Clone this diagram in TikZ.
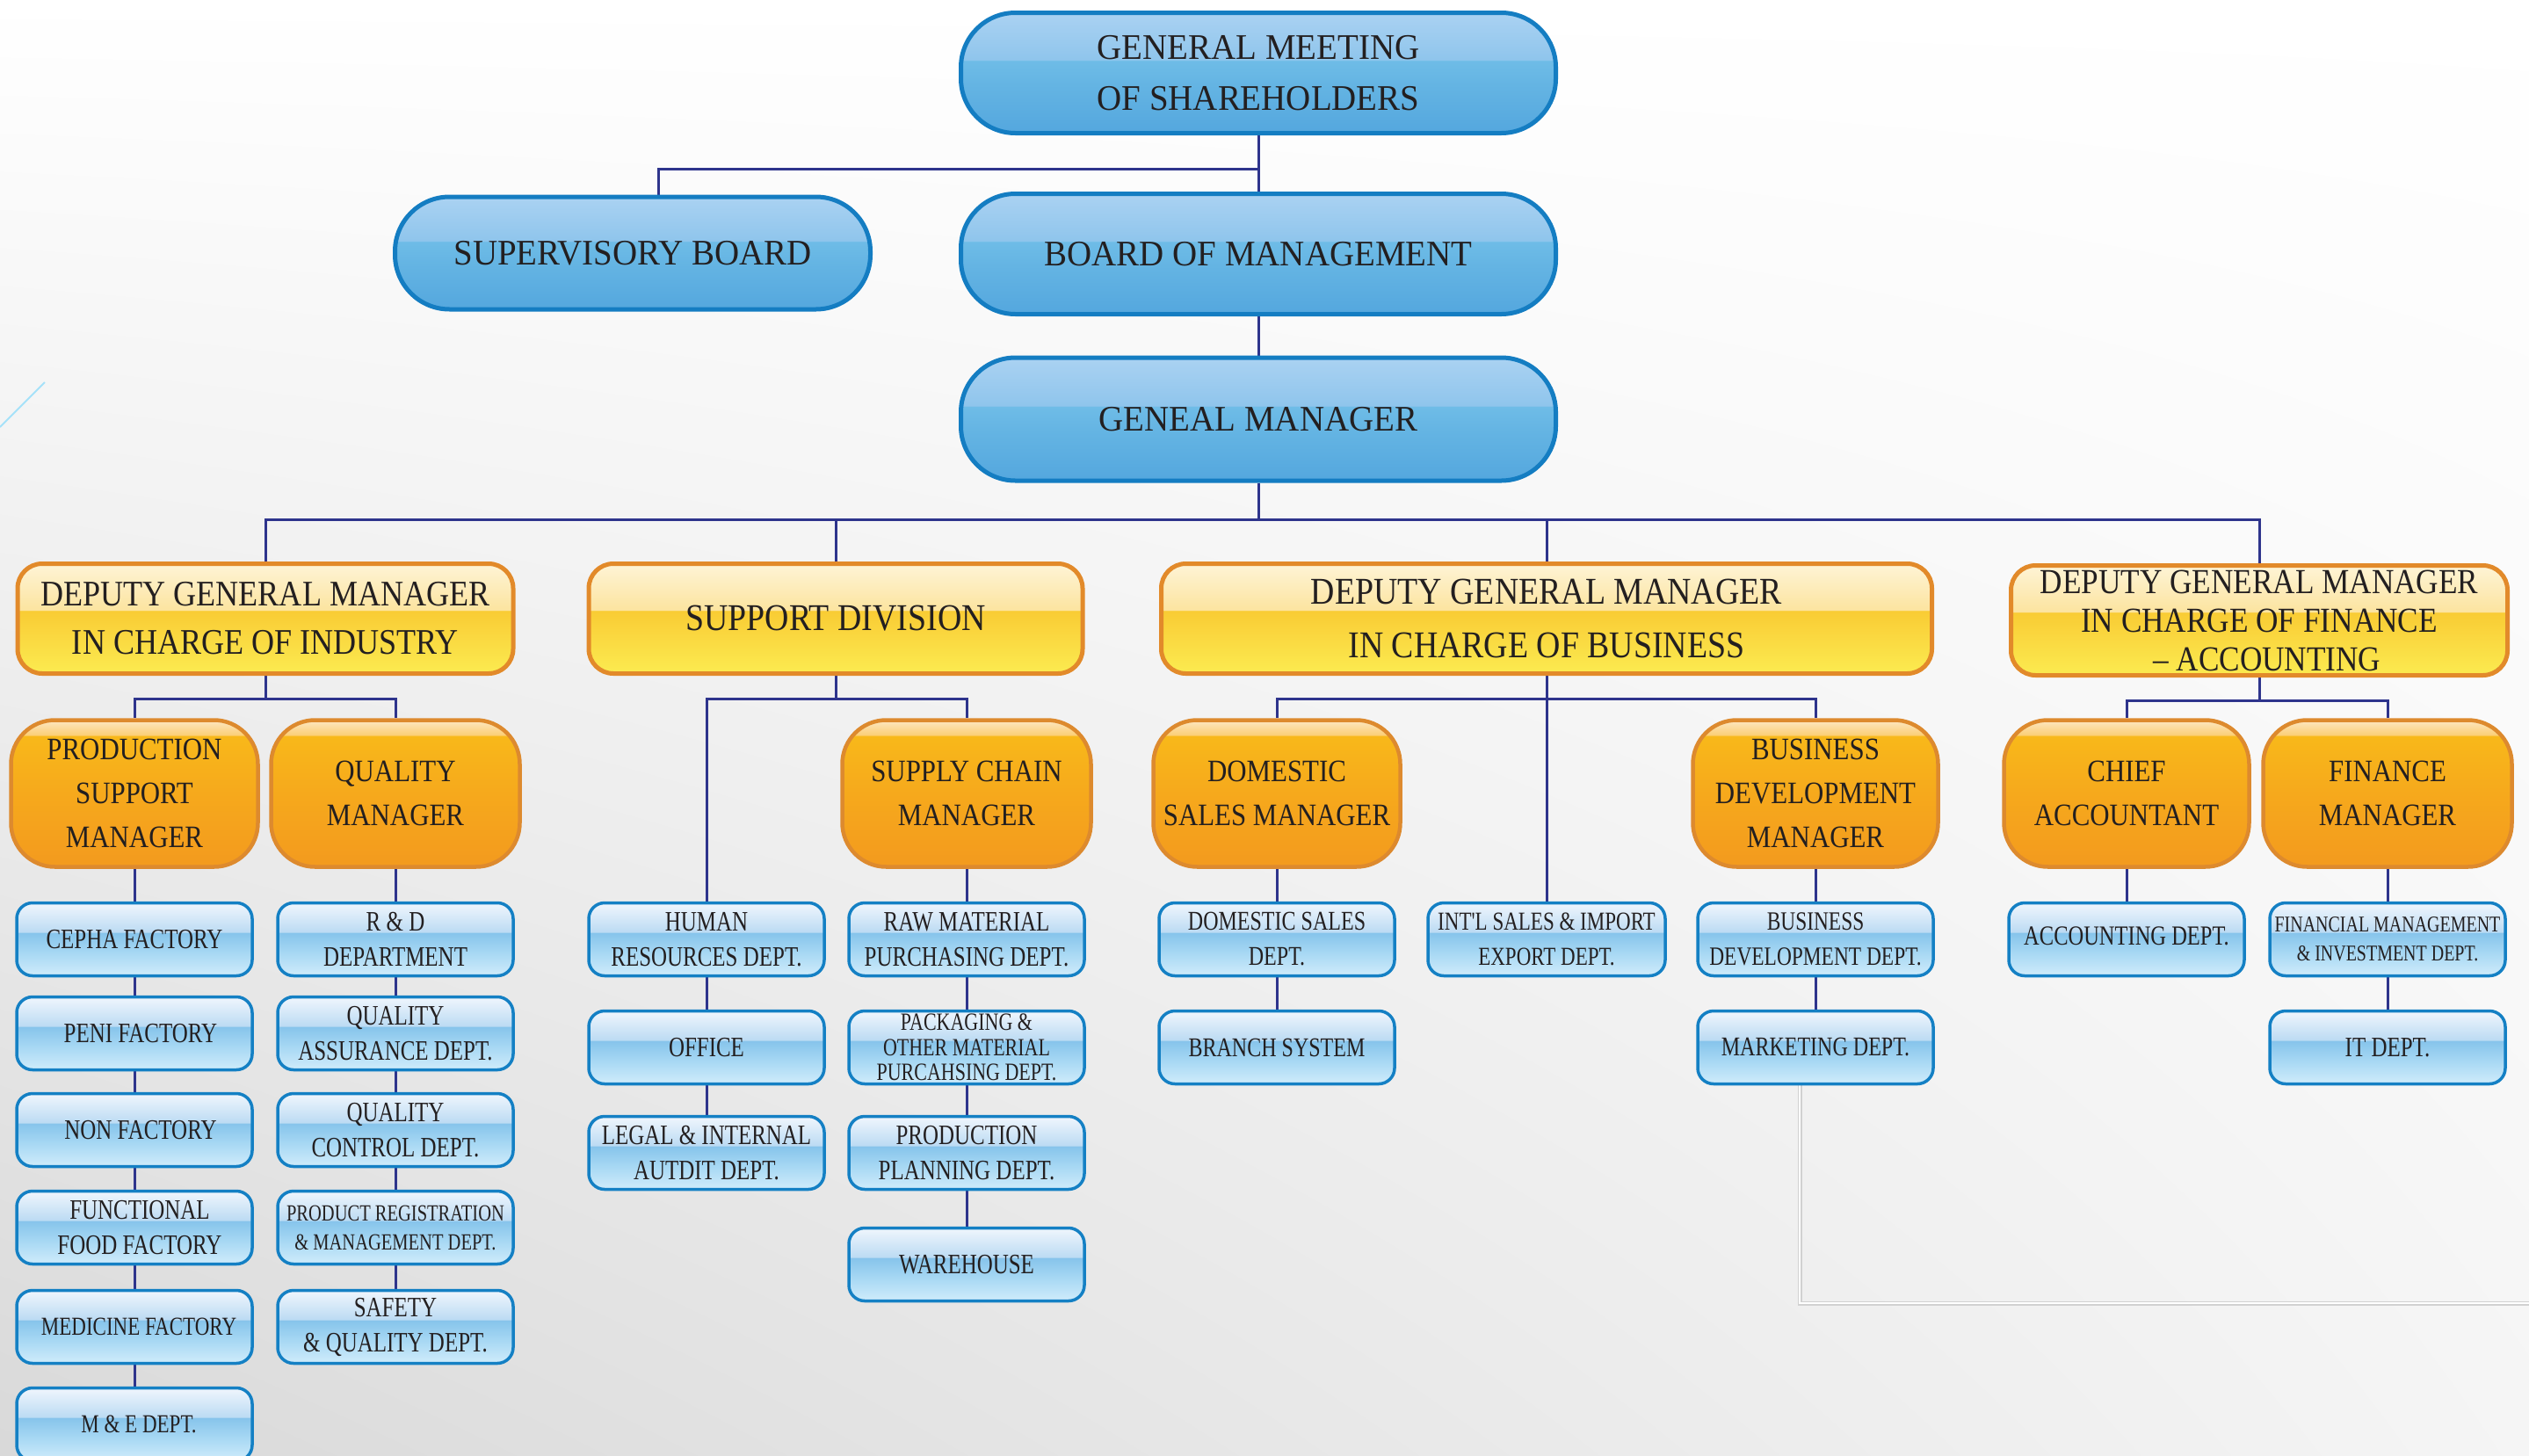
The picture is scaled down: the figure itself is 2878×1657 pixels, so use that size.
\documentclass[tikz,border=0pt]{standalone}
\usepackage{fontspec}
\setmainfont{Liberation Serif}
\newfontfamily\bigfont{Liberation Serif}[FakeStretch=0.95]
\newfontfamily\yfont{Liberation Serif}[FakeStretch=0.88]
\newfontfamily\ofont{Liberation Serif}[FakeStretch=0.87]
\newfontfamily\bfont{Liberation Serif}[FakeStretch=0.78]
\usetikzlibrary{calc,shadings}

\definecolor{conn}{RGB}{46,52,140}
\definecolor{txt}{RGB}{35,31,32}
\definecolor{bigborder}{RGB}{20,125,194}
\definecolor{bb1}{RGB}{84,167,222}
\definecolor{bb2}{RGB}{100,180,227}
\definecolor{bb3}{RGB}{110,188,231}
\definecolor{bb4}{RGB}{143,197,236}
\definecolor{bb5}{RGB}{170,210,242}
\definecolor{smallborder}{RGB}{20,128,196}
\definecolor{bs1}{RGB}{208,236,251}
\definecolor{bs2}{RGB}{169,217,244}
\definecolor{bs3}{RGB}{134,196,235}
\definecolor{bs4}{RGB}{188,219,243}
\definecolor{bs5}{RGB}{240,246,253}
\definecolor{yborder}{RGB}{226,138,42}
\definecolor{ys1}{RGB}{251,235,80}
\definecolor{ys2}{RGB}{250,216,64}
\definecolor{ys3}{RGB}{249,204,52}
\definecolor{ys4}{RGB}{252,228,160}
\definecolor{ys5}{RGB}{254,244,214}
\definecolor{oborder}{RGB}{221,138,46}
\definecolor{os1}{RGB}{243,154,30}
\definecolor{os2}{RGB}{246,169,28}
\definecolor{os3}{RGB}{248,184,26}
\definecolor{os4}{RGB}{251,207,120}
\definecolor{os5}{RGB}{253,231,194}

\pgfdeclareverticalshading{bbig}{100bp}{color(0bp)=(bb1); color(25bp)=(bb1); color(45bp)=(bb2); color(55bp)=(bb3); color(55.5bp)=(bb4); color(75bp)=(bb5); color(100bp)=(bb5)}
\pgfdeclareverticalshading{bsmall}{100bp}{color(0bp)=(bs1); color(25bp)=(bs1); color(40bp)=(bs2); color(54.5bp)=(bs3); color(55bp)=(bs4); color(75bp)=(bs5); color(100bp)=(bs5)}
\pgfdeclareverticalshading{yshade}{100bp}{color(0bp)=(ys1); color(25bp)=(ys1); color(42bp)=(ys2); color(53.5bp)=(ys3); color(54bp)=(ys4); color(75bp)=(ys5); color(100bp)=(ys5)}
\pgfdeclareverticalshading{oshade}{100bp}{color(0bp)=(os1); color(25bp)=(os1); color(50bp)=(os2); color(69.5bp)=(os3); color(70bp)=(os4); color(75bp)=(os5); color(100bp)=(os5)}

\pgfdeclarelayer{bg}
\pgfdeclarelayer{lines}
\pgfsetlayers{bg,lines,main}

\tikzset{
  link/.style={draw=conn, line width=3pt},
  bigblue/.style={draw=bigborder, line width=5pt, rounded corners=62pt, shading=bbig,
    minimum width=677pt, minimum height=137pt, inner sep=0pt, align=center,
    text=txt, font=\bigfont\fontsize{41}{58}\selectfont},
  yellowbox/.style={draw=yborder, line width=5pt, rounded corners=28pt, shading=yshade,
    minimum width=564pt, minimum height=125pt, inner sep=0pt, align=center,
    text=txt, font=\yfont\fontsize{41}{55}\selectfont},
  orangebox/.style={draw=oborder, line width=4.5pt, rounded corners=50pt, shading=oshade,
    minimum width=281pt, minimum height=167pt, inner sep=0pt, align=center,
    text=txt, font=\ofont\fontsize{35.5}{50}\selectfont},
  bluebox/.style={draw=smallborder, line width=3.5pt, rounded corners=18pt, shading=bsmall,
    minimum width=268pt, minimum height=83pt, inner sep=0pt, align=center,
    text=txt, font=\bfont\fontsize{32}{40}\selectfont},
  bsz/.style={font=\bfont\fontsize{#1}{40}\selectfont},
  smalltext/.style={font=\bfont\fontsize{26.3}{33}\selectfont},
}

\begin{document}
\begin{tikzpicture}[x=1pt,y=-1pt]
\useasboundingbox (0,0) rectangle (2878,1657);
\clip (0,0) rectangle (2878,1657);

\begin{pgfonlayer}{bg}
  \shade[upper left=white, upper right=white, lower left=black!15, lower right=black!4]
    (0,0) rectangle (2878,1657);
  \draw[black!18, line width=5pt] (2048,1235) -- (2048,1483) -- (2878,1483);
  \draw[white, line width=2.5pt] (2048,1235) -- (2048,1483) -- (2878,1483);
  \draw[cyan!35, line width=2pt] (0,486) -- (51,435);
\end{pgfonlayer}

% top levels
\node[bigblue] (gms) at (1432,83) {GENERAL MEETING\\OF SHAREHOLDERS};
\node[bigblue, minimum width=541pt, minimum height=128pt] (sb) at (720,288) {SUPERVISORY BOARD};
\node[bigblue] (bom) at (1432,289) {BOARD OF MANAGEMENT};
\node[bigblue, minimum height=140pt] (gm) at (1432,477) {GENEAL MANAGER};

% level 2
\node[yellowbox] (ind) at (302,704) {DEPUTY GENERAL MANAGER\\IN CHARGE OF INDUSTRY};
\node[yellowbox, minimum width=562pt, font=\yfont\fontsize{43}{55}\selectfont] (sup) at (951,704) {SUPPORT DIVISION};
\node[yellowbox, minimum width=877pt, font=\yfont\fontsize{43}{60}\selectfont] (bus) at (1760,704) {DEPUTY GENERAL MANAGER\\[1pt]IN CHARGE OF BUSINESS};
\node[yellowbox, minimum width=565pt, font=\yfont\fontsize{40}{44}\selectfont] (fin) at (2571,706) {DEPUTY GENERAL MANAGER\\IN CHARGE OF FINANCE\\\hphantom{–}– ACCOUNTING};

% level 3
\node[orangebox] (psm) at (153,903) {PRODUCTION\\SUPPORT\\MANAGER};
\node[orangebox, minimum width=283pt] (qm) at (450,903) {QUALITY\\MANAGER};
\node[orangebox, minimum width=283pt] (scm) at (1100,903) {SUPPLY CHAIN\\MANAGER};
\node[orangebox] (dsm) at (1453,903) {DOMESTIC\\SALES MANAGER};
\node[orangebox, minimum width=279pt] (bdm) at (2066,903) {BUSINESS\\DEVELOPMENT\\MANAGER};
\node[orangebox, minimum width=279pt] (ca) at (2420,903) {CHIEF\\ACCOUNTANT};
\node[orangebox, minimum width=283pt] (fm) at (2717,903) {FINANCE\\MANAGER};

% production support column
\node[bluebox] (cepha) at (153,1069) {CEPHA FACTORY};
\node[bluebox] (peni) at (153,1176) {\hspace*{14pt}PENI FACTORY};
\node[bluebox] (non) at (153,1286) {\hspace*{14pt}NON FACTORY};
\node[bluebox] (func) at (153,1397) {\hspace*{12pt}FUNCTIONAL\\\hspace*{12pt}FOOD FACTORY};
\node[bluebox, bsz=29.5] (med) at (153,1510) {\hspace*{10pt}MEDICINE FACTORY};
\node[bluebox, bsz=29.5] (me) at (153,1621) {\hspace*{10pt}M \& E DEPT.};

% quality column
\node[bluebox] (rd) at (450,1069) {R \& D\\DEPARTMENT};
\node[bluebox] (qa) at (450,1176) {QUALITY\\ASSURANCE DEPT.};
\node[bluebox] (qc) at (450,1286) {QUALITY\\CONTROL DEPT.};
\node[bluebox, smalltext] (preg) at (450,1397) {PRODUCT REGISTRATION\\\& MANAGEMENT DEPT.};
\node[bluebox] (safe) at (450,1510) {SAFETY\\\& QUALITY DEPT.};

% support columns
\node[bluebox] (hr) at (804,1069) {HUMAN\\RESOURCES DEPT.};
\node[bluebox] (office) at (804,1192) {OFFICE};
\node[bluebox] (legal) at (804,1312) {LEGAL \& INTERNAL\\AUTDIT DEPT.};
\node[bluebox] (raw) at (1100,1069) {RAW MATERIAL\\PURCHASING DEPT.};
\node[bluebox, font=\bfont\fontsize{28.2}{28.5}\selectfont] (pack) at (1100,1192) {PACKAGING \&\\OTHER MATERIAL\\PURCAHSING DEPT.};
\node[bluebox] (plan) at (1100,1312) {PRODUCTION\\PLANNING DEPT.};
\node[bluebox] (ware) at (1100,1439) {WAREHOUSE};

% business columns
\node[bluebox, bsz=30.8] (dsd) at (1453,1069) {DOMESTIC SALES\\DEPT.};
\node[bluebox, bsz=30.8] (branch) at (1453,1192) {BRANCH SYSTEM};
\node[bluebox, minimum width=270pt, bsz=29.5] (intl) at (1760,1069) {INT'L SALES \& IMPORT\\EXPORT DEPT.};
\node[bluebox, bsz=30] (bdd) at (2066,1069) {BUSINESS\\DEVELOPMENT DEPT.};
\node[bluebox, bsz=30.8] (mkt) at (2066,1192) {MARKETING DEPT.};

% finance columns
\node[bluebox, bsz=31.4] (acc) at (2420,1069) {\raisebox{7pt}{ACCOUNTING DEPT.}};
\node[bluebox, font=\bfont\fontsize{25.6}{33}\selectfont] (fmi) at (2717,1069) {FINANCIAL MANAGEMENT\\\& INVESTMENT DEPT.};
\node[bluebox] (it) at (2717,1192) {IT DEPT.};

% connectors
\begin{pgfonlayer}{lines}
  \draw[link] (gms.south) -- (bom.north);
  \draw[link] (gms.south) ++(0,38) -| ([xshift=29pt]sb.north);
  \draw[link] (bom.south) -- (gm.north);
  \draw[link] (gm.south) -- ++(0,42) coordinate (busA);
  \foreach \t in {ind,sup,bus,fin} \draw[link] (busA) -| (\t.north);

  \draw[link] (ind.south) -- ++(0,26) coordinate (busI);
  \draw[link] (busI) -| (psm.north);
  \draw[link] (busI) -| (qm.north);

  \draw[link] (sup.south) -- ++(0,26) coordinate (busS);
  \draw[link] (busS) -| (hr.north);
  \draw[link] (busS) -| (scm.north);

  \draw[link] (bus.south) -- (intl.north);
  \draw[link] (bus.south) ++(0,26) coordinate (busB);
  \draw[link] (busB) -| (dsm.north);
  \draw[link] (busB) -| (bdm.north);

  \draw[link] (fin.south) -- ++(0,26) coordinate (busF);
  \draw[link] (busF) -| (ca.north);
  \draw[link] (busF) -| (fm.north);

  \foreach \a/\b in {psm/cepha,cepha/peni,peni/non,non/func,func/med,med/me,
                     qm/rd,rd/qa,qa/qc,qc/preg,preg/safe,
                     hr/office,office/legal,
                     scm/raw,raw/pack,pack/plan,plan/ware,
                     dsm/dsd,dsd/branch,
                     bdm/bdd,bdd/mkt,
                     ca/acc,fm/fmi,fmi/it}
    \draw[link] (\a.south) -- (\b.north);
\end{pgfonlayer}
\end{tikzpicture}
\end{document}
